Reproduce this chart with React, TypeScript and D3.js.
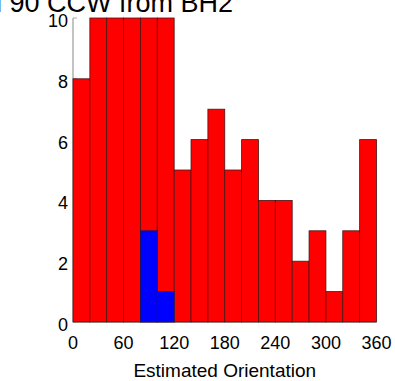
import React from "react";
import * as d3 from "d3";

const binStarts = [0, 20, 40, 60, 80, 100, 120, 140, 160, 180, 200, 220, 240, 260, 280, 300, 320, 340];
const redCounts = [8, 10, 10, 10, 10, 10, 5, 6, 7, 5, 6, 4, 4, 2, 3, 1, 3, 6];
const blueCounts = [0, 0, 0, 0, 3, 1, 0, 0, 0, 0, 0, 0, 0, 0, 0, 0, 0, 0];
const xTicks = [0, 60, 120, 180, 240, 300, 360];
const yTicks = [0, 2, 4, 6, 8, 10];
const binWidth = 20;
const title = "Rotated 90 CCW from BH2";
const xLabel = "Estimated Orientation";

export default function App() {
  const W = 395, H = 381;
  const left = 73, right = 376.5, top = 18, bottom = 322;
  const x = d3.scaleLinear().domain([0, 360]).range([left, right]);
  const y = d3.scaleLinear().domain([0, 10]).range([bottom, top]);
  const font = "'Liberation Sans', Arial, sans-serif";
  return (
    <svg width={W} height={H} style={{ position: "absolute", left: 0, top: 0, background: "#fff" }}>
      <text x={233} y={12} textAnchor="end" fontFamily={font} fontSize={27} fill="#000">{title}</text>
      <line x1={left} x2={left} y1={top} y2={bottom} stroke="#888" strokeWidth={1} />
      <line x1={left} x2={right} y1={bottom} y2={bottom} stroke="#888" strokeWidth={1} />
      {yTicks.map(t => (
        <line key={"yt" + t} x1={left} x2={left + 4} y1={y(t)} y2={y(t)} stroke="#aaa" strokeWidth={1} />
      ))}
      {binStarts.map((b, i) => (
        <rect key={"r" + i} x={x(b)} y={y(redCounts[i])} width={x(b + binWidth) - x(b)}
          height={y(0) - y(redCounts[i])} fill="#ff0000" stroke="#4a1515" strokeWidth={0.8} />
      ))}
      {binStarts.map((b, i) => blueCounts[i] > 0 ? (
        <rect key={"b" + i} x={x(b)} y={y(blueCounts[i])} width={x(b + binWidth) - x(b)}
          height={y(0) - y(blueCounts[i])} fill="#0000ff" stroke="#1a1a5a" strokeWidth={0.8} />
      ) : null)}
      {yTicks.map(t => (
        <text key={"yl" + t} x={68} y={y(t) + 9} textAnchor="end" fontFamily={font} fontSize={18} fill="#000">{t}</text>
      ))}
      {xTicks.map(t => (
        <text key={"xl" + t} x={x(t)} y={bottom + 27} textAnchor="middle" fontFamily={font} fontSize={18} fill="#000">{t}</text>
      ))}
      <text x={(left + right) / 2} y={377} textAnchor="middle" fontFamily={font} fontSize={19} fill="#000">{xLabel}</text>
    </svg>
  );
}
